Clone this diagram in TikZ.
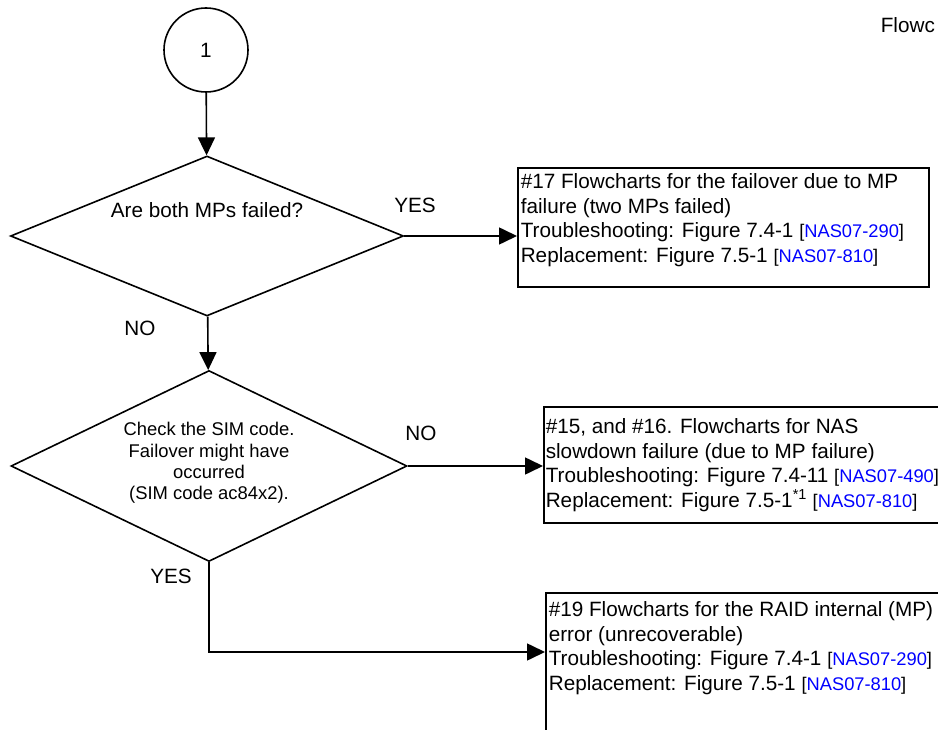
\documentclass[tikz,border=0pt]{standalone}
\usepackage{fontspec}
\setmainfont{Liberation Sans}
\usepackage{xcolor}
\usetikzlibrary{shapes.geometric,arrows.meta}
\definecolor{linkblue}{HTML}{0000FF}
\newcommand{\nasref}[1]{{\fontsize{18.3}{20}\selectfont[\textcolor{linkblue}{#1}]}}

\begin{document}
\begin{tikzpicture}[x=1pt, y=-1pt, line width=1.6pt,
  every node/.style={font=\fontsize{20.7}{24.5}\selectfont, inner sep=0pt},
  flow/.style={-{Triangle[length=18pt,width=17pt]}},
  decision/.style={draw, diamond, inner sep=0pt},
  resultbox/.style={draw, rectangle, anchor=north west},
  boxtext/.style={anchor=north west, align=left}]
  \useasboundingbox (0,0) rectangle (938,730);
  \clip (0,0) rectangle (938,730);
  \node[anchor=west] (title) at (880,25) {Flowc};
  \node[draw, circle, minimum size=84pt] (start) at (206,50) {1};
  \node[decision, minimum width=393pt, minimum height=160pt] (q1) at (207,236) {};
  \node (q1txt) at (207,210) {Are both MPs failed?};
  \node[decision, minimum width=396pt, minimum height=191pt] (q2) at (209,466) {};
  \node[align=center, font=\fontsize{18.4}{21.3}\selectfont] (q2txt) at (209,463) {Check the SIM code.\\Failover might have\\occurred\\(SIM code ac84x2).};
  \node[resultbox, minimum width=411pt, minimum height=119pt] (r17) at (517,167) {};
  \node[boxtext] (r17txt) at (520,173) {\#17 Flowcharts for the failover due to MP\\failure (two MPs failed)\\Troubleshooting: Figure 7.4-1 \nasref{NAS07-290}\\Replacement: Figure 7.5-1 \nasref{NAS07-810}};
  \node[resultbox, minimum width=430pt, minimum height=116pt] (r15) at (543,406) {};
  \node[boxtext] (r15txt) at (545,418) {\#15, and \#16. Flowcharts for NAS\\slowdown failure (due to MP failure)\\Troubleshooting: Figure 7.4-11 \nasref{NAS07-490}\\Replacement: Figure 7.5-1\textsuperscript{*1} \nasref{NAS07-810}};
  \node[resultbox, minimum width=430pt, minimum height=170pt] (r19) at (545,592) {};
  \node[boxtext] (r19txt) at (548,601) {\#19 Flowcharts for the RAID internal (MP)\\error (unrecoverable)\\Troubleshooting: Figure 7.4-1 \nasref{NAS07-290}\\Replacement: Figure 7.5-1 \nasref{NAS07-810}};
  \node (yes1) at (415,205) {YES};
  \node (no1) at (140,328) {NO};
  \node (no2) at (421,433) {NO};
  \node (yes2) at (171,576) {YES};
  \coordinate (turn) at (209,652);
  \draw[flow] (start) -- (q1);
  \draw[flow] (q1.east) -- (q1.east -| r17.west);
  \draw[flow] (q1) -- (q2);
  \draw[flow] (q2.east) -- (q2.east -| r15.west);
  \draw[flow] (q2.south) -- (turn) -- (turn -| r19.west);
\end{tikzpicture}
\end{document}
